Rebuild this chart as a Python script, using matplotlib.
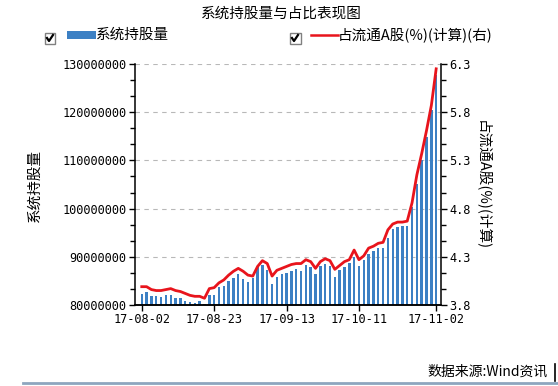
"""系统持股量与占比表现图 - bars (shares held) + ratio line on a twin axis."""

import numpy as np
import pandas as pd
import matplotlib
matplotlib.use("Agg")
import matplotlib.pyplot as plt
from matplotlib.patches import Rectangle
from matplotlib.lines import Line2D
from matplotlib.ticker import AutoMinorLocator

plt.rcParams["font.family"] = ["Noto Sans CJK SC", "DejaVu Sans"]

# trading days 2017-08-02 .. 2017-11-02 (National Day holiday removed)
days = pd.bdate_range("2017-08-02", "2017-11-02")
days = days[(days < "2017-10-02") | (days > "2017-10-06")]
dates = [d.strftime("%y-%m-%d") for d in days]
tick_dates = ["17-08-02", "17-08-23", "17-09-13", "17-10-11", "17-11-02"]

# system shareholding (shares)
holdings = np.array([
    82.3, 82.6, 81.9, 81.9, 81.7, 82.1, 82.1, 81.4, 81.4, 80.9,
    80.6, 80.5, 80.8, 80.3, 82.1, 82.1, 83.8, 83.9, 85.0, 85.7,
    86.5, 85.4, 84.8, 85.5, 87.8, 88.3, 87.2, 84.4, 85.9, 86.5,
    86.6, 87.0, 87.5, 87.0, 88.3, 87.9, 86.5, 88.0, 88.6, 88.1,
    85.9, 87.3, 87.9, 88.7, 89.9, 88.0, 89.4, 90.5, 91.3, 91.9,
    91.9, 94.0, 95.8, 96.1, 96.3, 96.3, 100.4, 105.2, 110.0, 114.9,
    120.4, 127.7,
]) * 1e6

# share of tradable A shares (%), right axis
ratio = np.array([
    3.99, 3.99, 3.96, 3.95, 3.95, 3.96, 3.97, 3.95, 3.94, 3.92,
    3.90, 3.89, 3.89, 3.87, 3.97, 3.98, 4.03, 4.06, 4.11, 4.15,
    4.18, 4.15, 4.11, 4.10, 4.20, 4.26, 4.23, 4.10, 4.16, 4.18,
    4.20, 4.22, 4.23, 4.23, 4.27, 4.25, 4.18, 4.25, 4.28, 4.26,
    4.17, 4.21, 4.25, 4.27, 4.37, 4.27, 4.31, 4.39, 4.41, 4.44,
    4.45, 4.58, 4.64, 4.66, 4.66, 4.67, 4.86, 5.15, 5.37, 5.61,
    5.87, 6.25,
])

left_ticks = [80000000, 90000000, 100000000, 110000000, 120000000, 130000000]
right_ticks = [3.8, 4.3, 4.8, 5.3, 5.8, 6.3]

W, H = 558, 386
BAR_BLUE = "#3c80c4"
LINE_RED = "#e8141c"
TICK_FONT = dict(family="DejaVu Sans Mono", size=8.6)


def px(x, y):
    """pixel (from top-left) -> figure fraction"""
    return x / W, 1 - y / H


fig = plt.figure(figsize=(W / 100, H / 100), dpi=100)
ax = fig.add_axes([135 / W, 1 - 305 / H, (441 - 135) / W, (305 - 64) / H])
ax2 = ax.twinx()

x = np.arange(len(dates))
ax.bar(x, holdings, width=0.5, color=BAR_BLUE, edgecolor="none", zorder=2)
ax2.plot(x, ratio, color=LINE_RED, lw=2.0, zorder=3)

ax.set_xlim(-1.4, len(dates))
ax.set_ylim(80000000, 130000000)
ax2.set_ylim(3.8, 6.3)

ax.set_yticks(left_ticks)
ax.set_yticklabels([str(v) for v in left_ticks], **TICK_FONT)
ax.yaxis.set_minor_locator(AutoMinorLocator(3))
ax2.set_yticks(right_ticks)
ax2.set_yticklabels([f"{v:.1f}" for v in right_ticks], **TICK_FONT)
ax2.yaxis.set_minor_locator(AutoMinorLocator(3))

ax.set_xticks([dates.index(d) for d in tick_dates])
ax.set_xticklabels(tick_dates, **TICK_FONT)

for gy in left_ticks[1:]:
    ax.axhline(gy, color="#b8b8b8", lw=0.8, ls=(0, (4, 4)), zorder=1)

for a in (ax, ax2):
    a.spines["top"].set_visible(False)
    for s in a.spines.values():
        s.set_linewidth(1.1)
        s.set_color("black")
    a.tick_params(which="major", length=4.5, width=1.0, pad=1.5)
    a.tick_params(which="minor", length=3.5, width=1.0)
ax.spines["right"].set_visible(False)
ax2.spines["left"].set_visible(False)

# title and legend row
fig.text(*px(281, 14), "系统持股量与占比表现图", ha="center", va="center", fontsize=10.5)


def checkbox(cx, cy):
    x0, y0 = px(cx - 5.5, cy + 5.5)
    fig.add_artist(Rectangle((x0, y0), 11 / W, 11 / H, transform=fig.transFigure,
                             facecolor="white", edgecolor="#808080", lw=1.0))
    xs, ys = zip(px(cx - 3, cy), px(cx - 1, cy + 3), px(cx + 3, cy - 3))
    fig.add_artist(Line2D(xs, ys, transform=fig.transFigure, color="black", lw=1.6))


checkbox(50, 38)
bx, by = px(67, 39)
fig.add_artist(Rectangle((bx, by), 29 / W, 8 / H, transform=fig.transFigure,
                         facecolor=BAR_BLUE, edgecolor="none"))
fig.text(*px(96, 35), "系统持股量", ha="left", va="center", fontsize=10.5)

checkbox(295, 38)
lx0, ly = px(311, 35)
lx1, _ = px(338, 35)
fig.add_artist(Line2D([lx0, lx1], [ly, ly], transform=fig.transFigure,
                      color=LINE_RED, lw=1.8))
fig.text(*px(338, 35), "占流通A股(%)(计算)(右)", ha="left", va="center", fontsize=10.5)

# axis titles
fig.text(*px(35, 185), "系统持股量", rotation=90, ha="center", va="center", fontsize=10.5)
fig.text(*px(483, 185), "占流通A股(%)(计算)", rotation=-90, ha="center", va="center",
         fontsize=10.5)

# source note and footer rule
fig.text(*px(548, 372), "数据来源:Wind资讯", ha="right", va="center", fontsize=10)
fx0, fy = px(23, 383)
fx1, _ = px(558, 383)
fig.add_artist(Line2D([fx0, fx1], [fy, fy], transform=fig.transFigure,
                      color="#8ea6bf", lw=2))
vx, vy0 = px(555, 364)
_, vy1 = px(555, 381)
fig.add_artist(Line2D([vx, vx], [vy0, vy1], transform=fig.transFigure,
                      color="black", lw=1.2))

fig.savefig("out.png", dpi=100)
plt.close(fig)
